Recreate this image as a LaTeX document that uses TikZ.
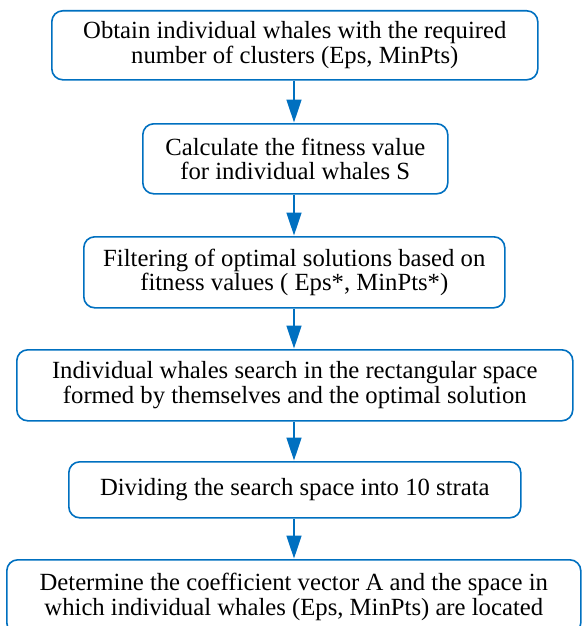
\documentclass[tikz,border=0pt]{standalone}
\usepackage{fontspec}
\setmainfont{Liberation Serif}
\usetikzlibrary{arrows.meta}
\definecolor{flowblue}{HTML}{0070C0}
\begin{document}
\begin{tikzpicture}[x=1pt,y=-1pt,
  stepbox/.style={draw=flowblue, line width=1.6pt, rounded corners=11pt,
    align=center, inner sep=0pt, font=\fontsize{24.7}{24.5}\selectfont,
    anchor=north west},
  flow/.style={draw=flowblue, line width=1.6pt,
    -{Triangle[length=23pt,width=15pt]}, shorten >=0.5pt}]
\useasboundingbox (0,0) rectangle (581,626);
% process steps, placed by their top-left corners
\node[stepbox, minimum width=486pt, minimum height=69pt] (s1) at (51,10)
  {Obtain individual whales with the required\\number of clusters (Eps, MinPts)};
\node[stepbox, minimum width=305pt, minimum height=70pt] (s2) at (142,123)
  {Calculate the fitness value\\for individual whales S};
\node[stepbox, minimum width=421pt, minimum height=71pt] (s3) at (83,236)
  {Filtering of optimal solutions based on\\fitness values ( Eps*, MinPts*)};
\node[stepbox, minimum width=556pt, minimum height=71pt] (s4) at (16,349)
  {Individual whales search in the rectangular space\\formed by themselves and the optimal solution};
\node[stepbox, minimum width=452pt, minimum height=56pt] (s5) at (68,461)
  {Dividing the search space into 10 strata};
\node[stepbox, minimum width=574pt, minimum height=74pt] (s6) at (6,559)
  {Determine the coefficient vector A and the space in\\which individual whales (Eps, MinPts) are located};
% connectors between consecutive steps
\draw[flow] (s1.south -| 294,0) -- (s2.north -| 294,0);
\draw[flow] (s2.south -| 294,0) -- (s3.north -| 294,0);
\draw[flow] (s3.south -| 294,0) -- (s4.north -| 294,0);
\draw[flow] (s4.south -| 294,0) -- (s5.north -| 294,0);
\draw[flow] (s5.south -| 294,0) -- (s6.north -| 294,0);
\end{tikzpicture}
\end{document}
